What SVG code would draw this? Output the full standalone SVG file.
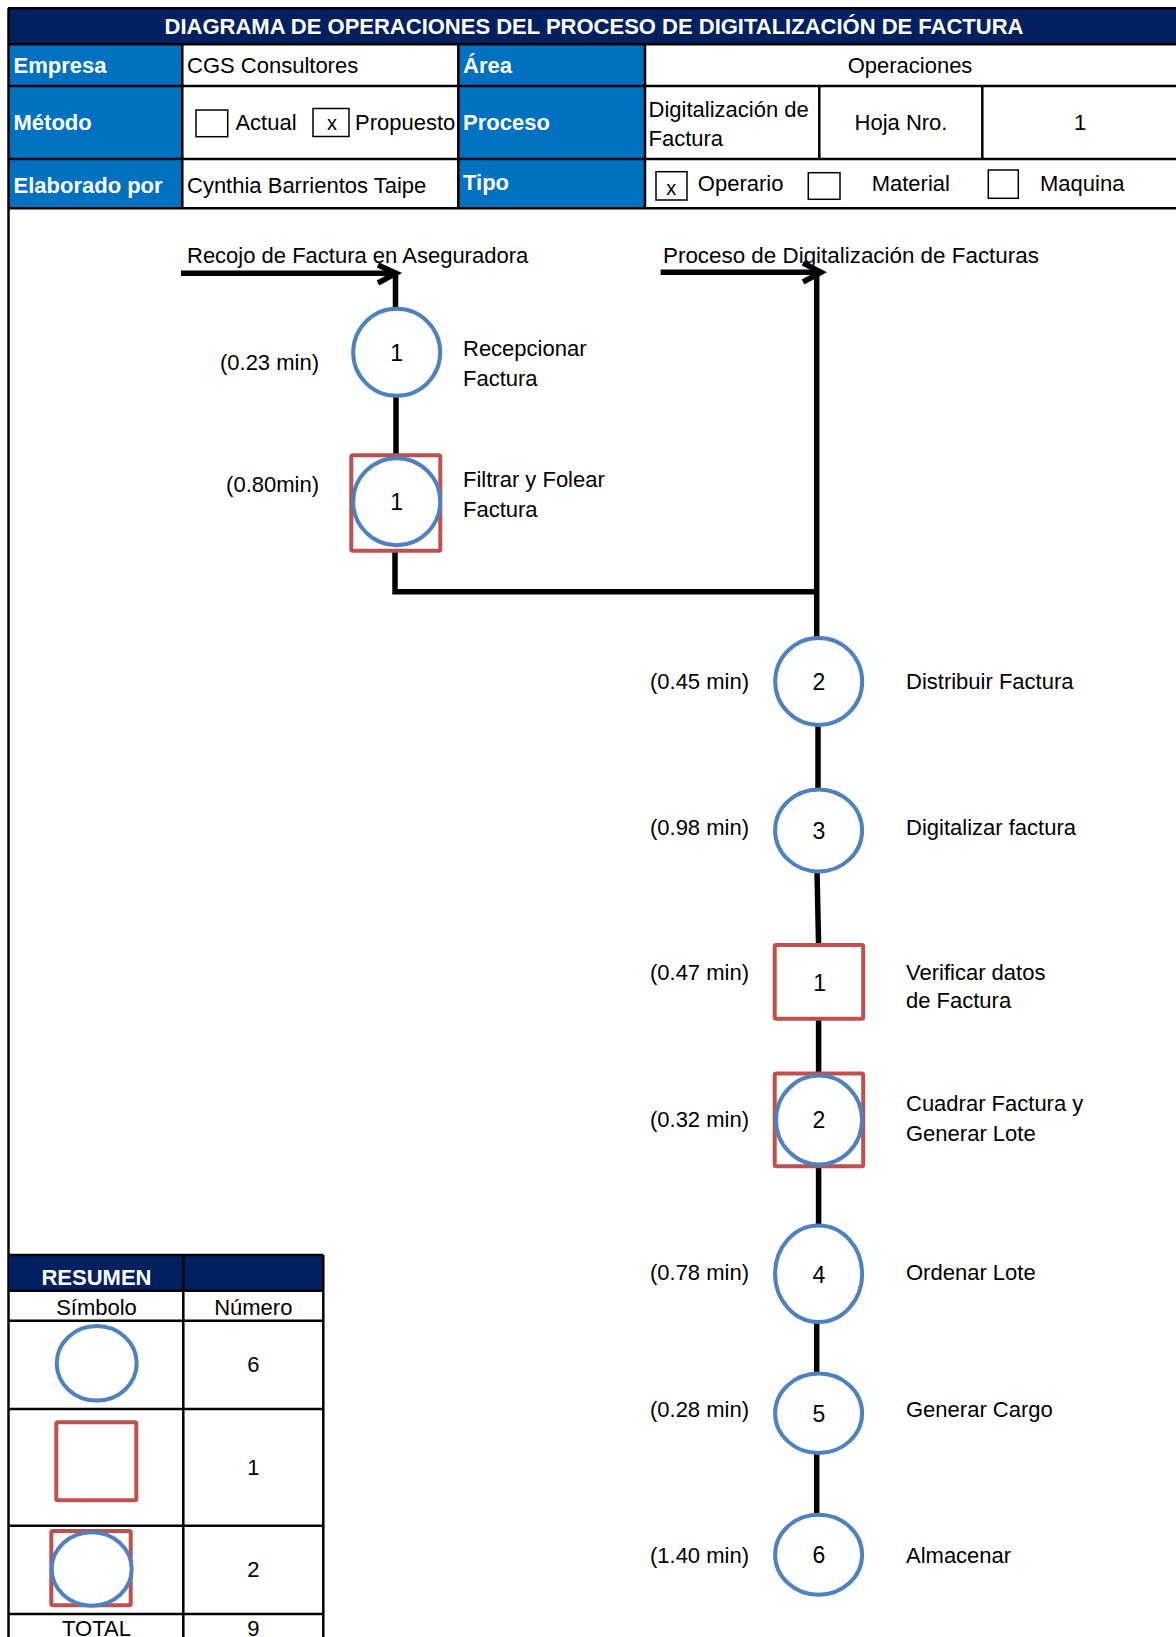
<svg xmlns="http://www.w3.org/2000/svg" width="1176" height="1637" viewBox="0 0 1176 1637">
<style>
text { font-family: "Liberation Sans", Arial, sans-serif; font-size: 22px; fill: #000; }
.hb { font-weight: bold; fill: #fff; }
.mid { text-anchor: middle; }
.end { text-anchor: end; }
.grid { stroke: #000; stroke-width: 2.5; fill: none; }
.box { stroke: #000; stroke-width: 1.5; fill: #fff; }
.op { fill: #fff; stroke: #4F81BD; stroke-width: 4; }
.insp { fill: #fff; stroke: #C0504D; stroke-width: 4; }
.conn { stroke: #000; stroke-width: 5.5; fill: none; }
.num { font-size: 23px; }
</style>
<rect x="0" y="0" width="1176" height="1637" fill="#fff"/>

<g id="header">
  <rect x="8" y="8.3" width="1168" height="36" fill="#002060"/>
  <rect x="8" y="44.3" width="174.3" height="164" fill="#0070C0"/>
  <rect x="458.3" y="44.3" width="186.7" height="164" fill="#0070C0"/>
  <text class="hb mid" x="594" y="33.5">DIAGRAMA DE OPERACIONES DEL PROCESO DE DIGITALIZACIÓN DE FACTURA</text>
  <g class="grid">
    <line x1="8" y1="8.3" x2="1176" y2="8.3"/>
    <line x1="8" y1="44.3" x2="1176" y2="44.3"/>
    <line x1="8" y1="86" x2="1176" y2="86"/>
    <line x1="8" y1="159" x2="1176" y2="159"/>
    <line x1="8" y1="208.3" x2="1176" y2="208.3"/>
    <line x1="182.3" y1="44.3" x2="182.3" y2="208.3"/>
    <line x1="458.3" y1="44.3" x2="458.3" y2="208.3"/>
    <line x1="645" y1="44.3" x2="645" y2="208.3"/>
    <line x1="819.3" y1="86" x2="819.3" y2="159"/>
    <line x1="982.3" y1="86" x2="982.3" y2="159"/>
  </g>
  <text class="hb" x="13.5" y="73.3">Empresa</text>
  <text class="hb" x="13.5" y="130">Método</text>
  <text class="hb" x="13.5" y="193">Elaborado por</text>
  <text class="hb" x="463" y="73.3">Área</text>
  <text class="hb" x="463" y="130">Proceso</text>
  <text class="hb" x="463" y="190">Tipo</text>
  <text x="187" y="73.3">CGS Consultores</text>
  <text x="187" y="193">Cynthia Barrientos Taipe</text>
  <text class="mid" x="910" y="73.3">Operaciones</text>
  <rect class="box" x="196" y="110" width="31.7" height="26.7"/>
  <text x="235.4" y="130">Actual</text>
  <rect class="box" x="313" y="108.5" width="36" height="28"/>
  <text class="mid" x="332" y="130" style="font-size:20px">x</text>
  <text x="355" y="130">Propuesto</text>
  <text x="648.5" y="117">Digitalización de</text>
  <text x="648.5" y="146">Factura</text>
  <text class="mid" x="901" y="130">Hoja Nro.</text>
  <text class="mid" x="1080" y="130">1</text>
  <rect class="box" x="656" y="171.7" width="31" height="28.3"/>
  <text class="mid" x="671.2" y="195" style="font-size:20px">x</text>
  <text x="697.8" y="191">Operario</text>
  <rect class="box" x="808.3" y="172.7" width="31.7" height="26.6"/>
  <text x="871.7" y="191">Material</text>
  <rect class="box" x="988.3" y="170" width="30" height="28.3"/>
  <text x="1040" y="191">Maquina</text>
</g>

<line class="grid" x1="8.5" y1="8.3" x2="8.5" y2="1637"/>

<g id="connectors">
  <polyline class="conn" points="181,273.3 397,273.3"/>
  <polyline class="conn" points="378,265 396,273.3 378,283" stroke-linejoin="miter"/>
  <line class="conn" x1="395.5" y1="273.3" x2="395.5" y2="308"/>
  <line class="conn" x1="396" y1="396" x2="396" y2="455"/>
  <polyline class="conn" points="395,551 395,591.7 816.7,591.7"/>
  <polyline class="conn" points="660.6,272.3 821,272.3"/>
  <polyline class="conn" points="803,263 821,272.3 803,282" stroke-linejoin="miter"/>
  <line class="conn" x1="816.7" y1="272.3" x2="816.7" y2="638"/>
  <line class="conn" x1="818" y1="724" x2="818" y2="790"/>
  <line class="conn" x1="817" y1="871" x2="818.6" y2="945"/>
  <line class="conn" x1="818.6" y1="1019" x2="818.6" y2="1073"/>
  <line class="conn" x1="818.6" y1="1166" x2="818.6" y2="1226"/>
  <line class="conn" x1="816.7" y1="1321" x2="816.7" y2="1374"/>
  <line class="conn" x1="816.7" y1="1452" x2="816.7" y2="1515"/>
</g>

<text x="187" y="262.7">Recojo de Factura en Aseguradora</text>
<text x="663" y="262.7" style="font-size:22.4px">Proceso de Digitalización de Facturas</text>

<g id="op1">
  <circle class="op" cx="396.7" cy="352.3" r="43.5"/>
  <text class="mid num" x="396.7" y="360.5">1</text>
  <text class="end" x="319" y="370">(0.23 min)</text>
  <text x="463" y="356">Recepcionar</text>
  <text x="463" y="385.7">Factura</text>
</g>
<g id="comb1">
  <rect class="insp" x="351.3" y="455.3" width="89" height="95.4" rx="1.5"/>
  <circle class="op" cx="396.7" cy="501.7" r="43.5"/>
  <text class="mid num" x="396.7" y="509.5">1</text>
  <text class="end" x="319" y="491.7">(0.80min)</text>
  <text x="463" y="487.3">Filtrar y Folear</text>
  <text x="463" y="516.7">Factura</text>
</g>
<g id="op2">
  <circle class="op" cx="818.7" cy="681.4" r="43.5"/>
  <text class="mid num" x="819" y="689.5">2</text>
  <text class="end" x="749" y="689">(0.45 min)</text>
  <text x="906" y="689">Distribuir Factura</text>
</g>
<g id="op3">
  <ellipse class="op" cx="818.6" cy="830.4" rx="43.5" ry="41"/>
  <text class="mid num" x="819" y="839">3</text>
  <text class="end" x="749" y="835">(0.98 min)</text>
  <text x="906" y="835">Digitalizar factura</text>
</g>
<g id="insp1">
  <rect class="insp" x="774.7" y="944.9" width="88.5" height="73.8" rx="1.5"/>
  <text class="mid num" x="819.7" y="991">1</text>
  <text class="end" x="749" y="980">(0.47 min)</text>
  <text x="906" y="979.6">Verificar datos</text>
  <text x="906" y="1007.9">de Factura</text>
</g>
<g id="comb2">
  <rect class="insp" x="774.7" y="1073.4" width="88.5" height="92.9" rx="1.5"/>
  <ellipse class="op" cx="819" cy="1120" rx="43" ry="44.5"/>
  <text class="mid num" x="819" y="1128">2</text>
  <text class="end" x="749" y="1126.8">(0.32 min)</text>
  <text x="906" y="1111.4">Cuadrar Factura y</text>
  <text x="906" y="1141">Generar Lote</text>
</g>
<g id="op4">
  <ellipse class="op" cx="818.6" cy="1273.7" rx="43.5" ry="48.3"/>
  <text class="mid num" x="819" y="1283">4</text>
  <text class="end" x="749" y="1280">(0.78 min)</text>
  <text x="906" y="1280">Ordenar Lote</text>
</g>
<g id="op5">
  <ellipse class="op" cx="818.6" cy="1413.3" rx="43.5" ry="39.7"/>
  <text class="mid num" x="819" y="1422">5</text>
  <text class="end" x="749" y="1416.7">(0.28 min)</text>
  <text x="906" y="1416.7">Generar Cargo</text>
</g>
<g id="op6">
  <ellipse class="op" cx="818.6" cy="1554.7" rx="43.5" ry="40"/>
  <text class="mid num" x="819" y="1563">6</text>
  <text class="end" x="749" y="1562.7">(1.40 min)</text>
  <text x="906" y="1562.7">Almacenar</text>
</g>

<g id="resumen">
  <rect x="9" y="1255" width="314.3" height="35.7" fill="#002060"/>
  <g class="grid">
    <line x1="8.5" y1="1255" x2="323.3" y2="1255"/>
    <line x1="8.5" y1="1290.7" x2="323.3" y2="1290.7"/>
    <line x1="8.5" y1="1320.7" x2="323.3" y2="1320.7"/>
    <line x1="8.5" y1="1409" x2="323.3" y2="1409"/>
    <line x1="8.5" y1="1525.7" x2="323.3" y2="1525.7"/>
    <line x1="8.5" y1="1614" x2="323.3" y2="1614"/>
    <line x1="183.3" y1="1255" x2="183.3" y2="1637"/>
    <line x1="323.3" y1="1255" x2="323.3" y2="1637"/>
  </g>
  <text class="hb mid" x="96.5" y="1285">RESUMEN</text>
  <text class="mid" x="96.5" y="1315">Símbolo</text>
  <text class="mid" x="253.3" y="1315">Número</text>
  <ellipse class="op" cx="96.7" cy="1363.3" rx="40" ry="37.3"/>
  <text class="mid" x="253.3" y="1372">6</text>
  <rect class="insp" x="56.3" y="1422.3" width="80" height="78" rx="1.5"/>
  <text class="mid" x="253.3" y="1475">1</text>
  <rect class="insp" x="51.3" y="1531" width="79.4" height="74.3" rx="1.5"/>
  <ellipse class="op" cx="91.7" cy="1569" rx="40" ry="36.7"/>
  <text class="mid" x="253.3" y="1577">2</text>
  <text class="mid" x="96.5" y="1636">TOTAL</text>
  <text class="mid" x="253.3" y="1636">9</text>
</g>
</svg>
